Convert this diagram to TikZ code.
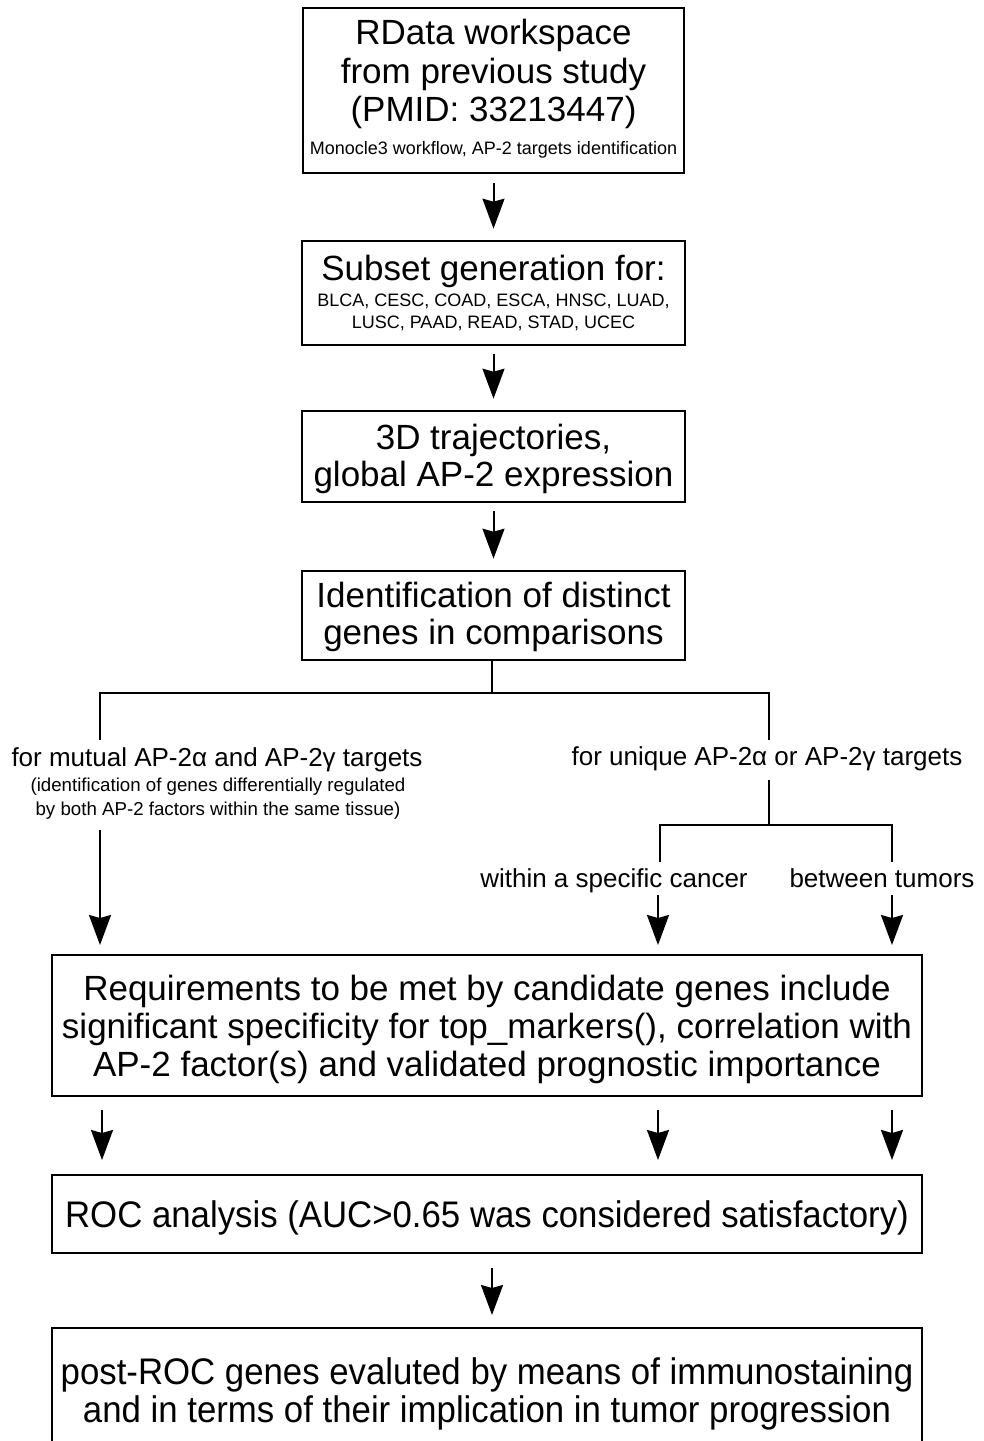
\documentclass[tikz,border=0pt]{standalone}
\usepackage{fontspec}
\setmainfont{Liberation Sans}
\usetikzlibrary{arrows.meta}
\newcommand{\fbig}{\fontsize{35}{37}\selectfont}
\newcommand{\fone}{\fontsize{35}{38.5}\selectfont}
\newcommand{\freq}{\fontsize{35}{38}\selectfont}
\newcommand{\froc}{\fontsize{37}{38}\selectfont}
\newcommand{\flbl}{\fontsize{26}{28}\selectfont}
\newcommand{\fsml}{\fontsize{18}{22}\selectfont}
\newcommand{\fsub}{\fontsize{18.7}{24}\selectfont}
\newcommand{\cond}[1]{\scalebox{0.94}[1]{#1}}
\begin{document}
\begin{tikzpicture}[x=1pt,y=-1pt,
  box/.style={draw,line width=2.6pt,inner sep=0pt,align=center},
  arr/.style={line width=2pt,-{Stealth[length=30pt,width=22pt,inset=3pt]}},
  ln/.style={line width=2.2pt},
  txt/.style={inner sep=0pt,align=center}]
\useasboundingbox (0,0) rectangle (983,1441);
\clip (0,0) rectangle (983,1441);
\fill[white] (0,0) rectangle (983,1441);
% boxes
\node[box,minimum width=381pt,minimum height=165pt] (b1) at (493.5,90.5) {};
\node[txt,font=\fone] (t1) at (493.5,74) {RData workspace\\from previous study\\(PMID: 33213447)};
\node[txt,font=\fsml] (t1s) at (493.5,150) {Monocle3 workflow, AP-2 targets identification};
\node[box,minimum width=383pt,minimum height=104pt] (b2) at (493.5,293) {};
\node[txt,font=\fbig] (t2) at (493.5,271) {Subset generation for:};
\node[txt,font=\fsml] (t2s) at (493.5,312) {BLCA, CESC, COAD, ESCA, HNSC, LUAD,\\LUSC, PAAD, READ, STAD, UCEC};
\node[box,minimum width=383pt,minimum height=91pt] (b3) at (493.5,456.5) {};
\node[txt,font=\fbig] (t3) at (493.5,459) {3D trajectories,\\global AP-2 expression};
\node[box,minimum width=383pt,minimum height=89pt] (b4) at (493.5,615.5) {};
\node[txt,font=\fbig] (t4) at (493.5,617) {Identification of distinct\\genes in comparisons};
\node[box,minimum width=870pt,minimum height=141pt] (b5) at (487,1025.5) {};
\node[txt,font=\freq] (t5) at (487,1029.5) {Requirements to be met by candidate genes include\\significant specificity for top\_markers(), correlation with\\AP-2 factor(s) and validated prognostic importance};
\node[box,minimum width=870pt,minimum height=78pt] (b6) at (487,1214) {};
\node[txt,font=\froc] (t6) at (487,1218) {\cond{ROC analysis (AUC>0.65 was considered satisfactory)}};
\node[box,minimum width=870pt,minimum height=160pt] (b7) at (487,1408) {};
\node[txt,font=\froc] (t7) at (487,1394) {\cond{post-ROC genes evaluted by means of immunostaining}\\\cond{and in terms of their implication in tumor progression}};
% labels
\node[txt,font=\flbl] (la) at (217,760) {for mutual AP-2α and AP-2γ targets};
\node[txt,font=\fsub] (lasub) at (218,799) {(identification of genes differentially regulated\\by both AP-2 factors within the same tissue)};
\node[txt,font=\flbl] (lb) at (767,759) {for unique AP-2α or AP-2γ targets};
\node[txt,font=\flbl,anchor=base] (lc) at (614,887) {within a specific cancer};
\node[txt,font=\flbl,anchor=base] (ld) at (882,887) {between tumors};
% coordinates
\coordinate (j1) at (492,693);
\coordinate (la1) at (100,740);
\coordinate (lb1) at (769,740);
\coordinate (lb2) at (769,780);
\coordinate (j2) at (769,825);
\coordinate (lc1) at (660,862);
\coordinate (ld1) at (892,862);
\coordinate (a1s) at (100,830);
\coordinate (a1e) at (100,945);
\coordinate (a2s) at (658,895);
\coordinate (a2e) at (658,945);
\coordinate (a3s) at (892,895);
\coordinate (a3e) at (892,945);
\coordinate (r1s) at (102,1110);
\coordinate (r1e) at (102,1160);
\coordinate (r2s) at (658,1110);
\coordinate (r2e) at (658,1160);
\coordinate (r3s) at (892,1110);
\coordinate (r3e) at (892,1160);
\coordinate (p1s) at (492,1268);
\coordinate (p1e) at (492,1315);
% connectors
\draw[arr,shorten <=9pt,shorten >=11pt] (b1.south) -- (b2.north);
\draw[arr,shorten <=8pt,shorten >=11pt] (b2.south) -- (b3.north);
\draw[arr,shorten <=8pt,shorten >=11pt] (b3.south) -- (b4.north);
\draw[ln] (b4.south -| j1) -- (j1);
\draw[ln] (la1) |- (j1) -| (lb1);
\draw[ln] (lb2) -- (j2);
\draw[ln] (lc1) |- (j2) -| (ld1);
\draw[arr] (a1s) -- (a1e);
\draw[arr] (a2s) -- (a2e);
\draw[arr] (a3s) -- (a3e);
\draw[arr] (r1s) -- (r1e);
\draw[arr] (r2s) -- (r2e);
\draw[arr] (r3s) -- (r3e);
\draw[arr] (p1s) -- (p1e);
\end{tikzpicture}
\end{document}
